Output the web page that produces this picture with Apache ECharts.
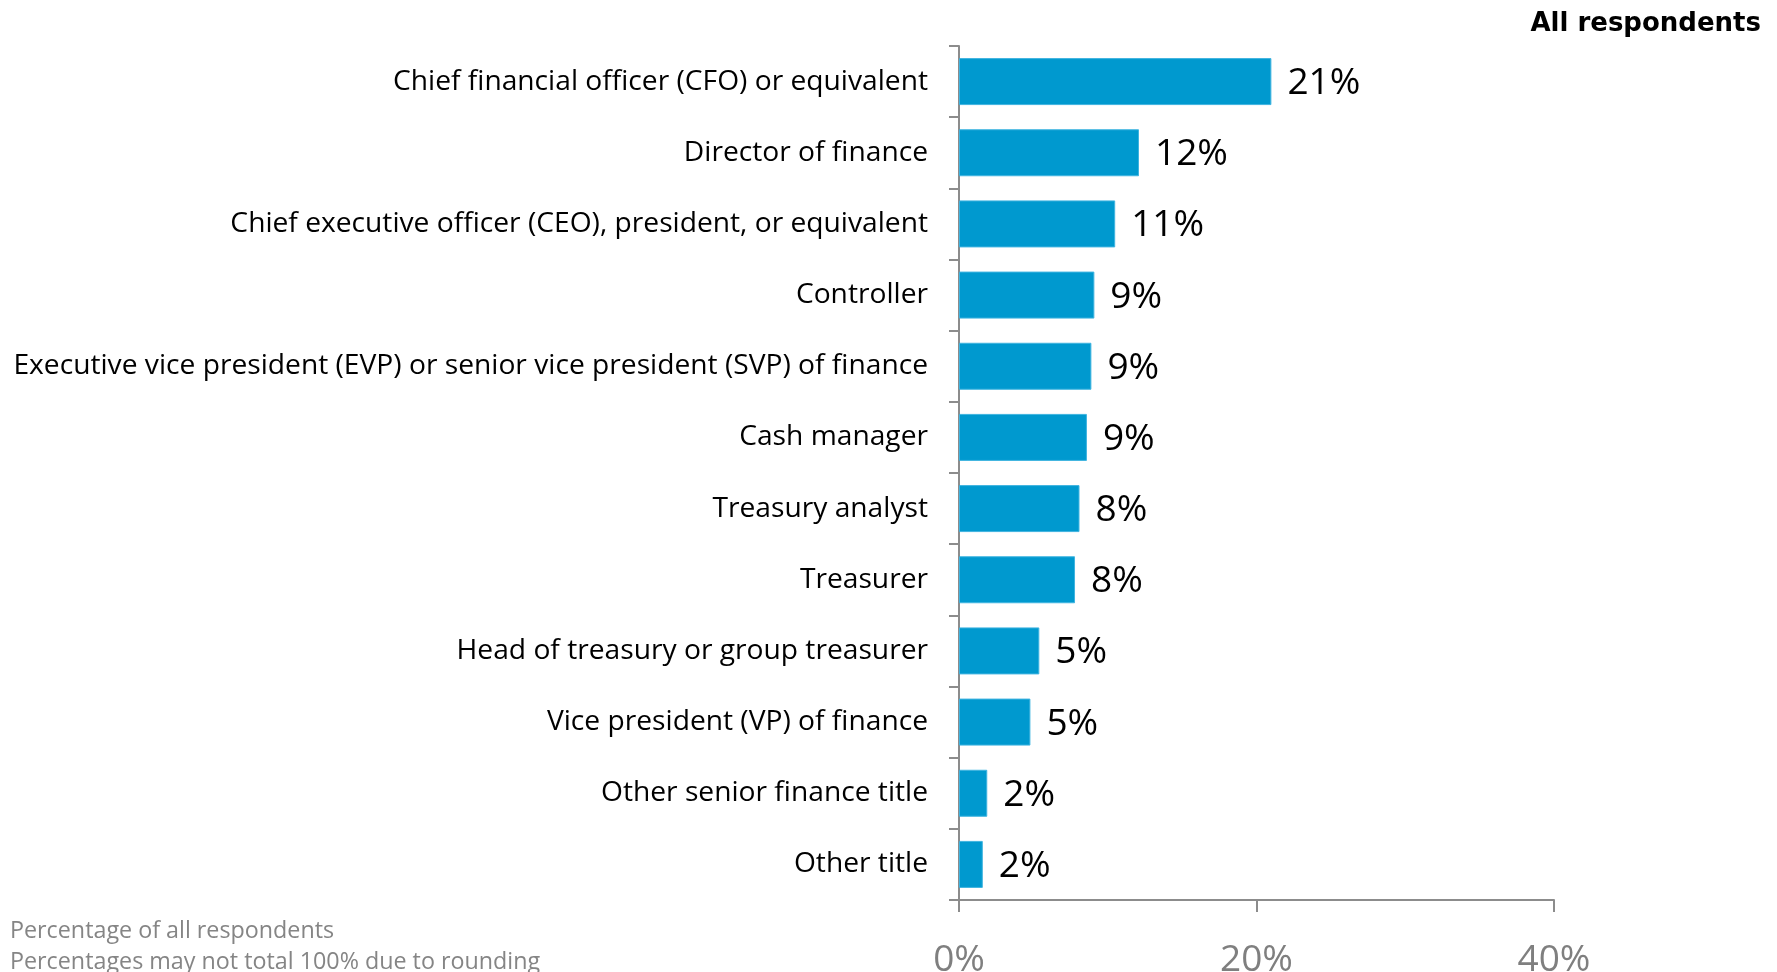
<!DOCTYPE html>
<html>
<head>
<meta charset="utf-8">
<script src="https://cdn.jsdelivr.net/npm/echarts@6/dist/echarts.min.js"></script>
<style>
  html, body { margin: 0; padding: 0; background: #fff; }
  #chart { width: 1777px; height: 972px; }
</style>
</head>
<body>
<div id="chart"></div>
<script>
  // job titles, top to bottom
  var titles = [
    'Chief financial officer (CFO) or equivalent',
    'Director of finance',
    'Chief executive officer (CEO), president, or equivalent',
    'Controller',
    'Executive vice president (EVP) or senior vice president (SVP) of finance',
    'Cash manager',
    'Treasury analyst',
    'Treasurer',
    'Head of treasury or group treasurer',
    'Vice president (VP) of finance',
    'Other senior finance title',
    'Other title'
  ];
  // percentage of respondents (bar lengths)
  var shares = [21.0, 12.1, 10.5, 9.1, 8.9, 8.6, 8.1, 7.8, 5.4, 4.8, 1.9, 1.6];
  var xTicks = [0, 20, 40];

  var notes = [
    'Percentage of all respondents',
    'Percentages may not total 100% due to rounding'
  ];

  var chart = echarts.init(document.getElementById('chart'));
  var option = {
    backgroundColor: '#fff',
    animation: false,
    title: [{
      text: 'All respondents',
      right: 11,
      top: 6,
      textStyle: {
        fontFamily: 'DejaVu Sans',
        fontWeight: 'bold',
        fontSize: 26,
        color: '#000'
      }
    }, {
      text: notes.join('\n'),
      left: 5,
      top: 911,
      textStyle: {
        fontFamily: 'Open Sans',
        fontWeight: 'normal',
        fontSize: 23.3,
        lineHeight: 31,
        color: '#858585'
      }
    }],
    grid: {
      left: 959,
      right: 223,
      top: 46,
      bottom: 72,
      containLabel: false,
      outerBoundsMode: 'none'
    },
    xAxis: {
      type: 'value',
      min: xTicks[0],
      max: xTicks[xTicks.length - 1],
      interval: 20,
      splitLine: { show: false },
      axisLine: { show: true, lineStyle: { color: '#8c8c8c', width: 2 } },
      axisTick: { show: true, length: 12, lineStyle: { color: '#8c8c8c', width: 2 } },
      axisLabel: {
        margin: 42,
        formatter: '{value}%',
        fontFamily: 'Open Sans',
        fontSize: 37,
        color: '#7f7f7f'
      }
    },
    yAxis: {
      type: 'category',
      inverse: true,
      data: titles,
      axisLine: { show: true, lineStyle: { color: '#8c8c8c', width: 2 } },
      axisTick: { show: true, length: 10, lineStyle: { color: '#8c8c8c', width: 2 } },
      axisLabel: {
        margin: 31,
        padding: [7, 0, 0, 0],
        fontFamily: 'Open Sans',
        fontSize: 28.2,
        color: '#000'
      }
    },
    series: [{
      type: 'bar',
      data: shares,
      barWidth: 47,
      itemStyle: {
        color: '#0099cf',
        borderColor: '#3fb4e0',
        borderWidth: 1
      },
      label: {
        show: true,
        position: 'right',
        distance: 16,
        offset: [0, 2],
        formatter: function (p) { return Math.round(p.value) + '%'; },
        fontFamily: 'Open Sans',
        fontSize: 37,
        color: '#000'
      }
    }]
  };
  chart.setOption(option);
</script>
</body>
</html>
